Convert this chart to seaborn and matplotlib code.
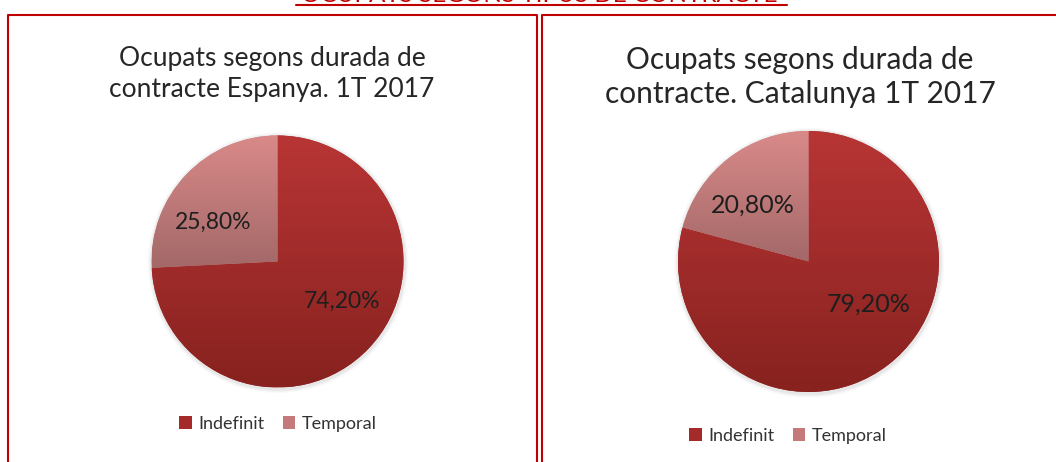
import numpy as np
import matplotlib
matplotlib.use("Agg")
import matplotlib.pyplot as plt
import seaborn as sns
from matplotlib.colors import LinearSegmentedColormap
from matplotlib.lines import Line2D
from matplotlib.patches import Patch, Circle

# Data
categories = ["Indefinit", "Temporal"]
espanya = [74.2, 25.8]
catalunya = [79.2, 20.8]
pct_labels_esp = ["74,20%", "25,80%"]
pct_labels_cat = ["79,20%", "20,80%"]
titles = ["Ocupats segons durada de\ncontracte Espanya. 1T 2017",
          "Ocupats segons durada de\ncontracte. Catalunya 1T 2017"]
header = "OCUPATS SEGONS TIPUS DE CONTRACTE"

# gradient colours (top, bottom) per category
grad_cols = [("#b83535", "#87221f"), ("#d98a89", "#a36868")]
solid_cols = ["#a52b2b", "#c47a7a"]

sns.set_theme(style="white")
plt.rcParams["font.family"] = ["Lato", "DejaVu Sans"]

W, H = 1056, 462
fig = plt.figure(figsize=(W / 100, H / 100), dpi=100)
fig.patch.set_facecolor("white")


def fx(x):
    return x / W


def fy(y):
    return 1 - y / H


red = "#c00000"

# cut-off header and underline (only the bottom of the letters is visible)
fig.text(fx(539), fy(2), header, ha="center", va="baseline", color=red, fontsize=17.5)
fig.add_artist(Line2D([fx(296), fx(787)], [fy(5), fy(5)], color=red, lw=1.5))

# panel borders
for xs in ([8, 8, 537, 537], [542, 542, 1060, 1060]):
    fig.add_artist(Line2D([fx(v) for v in xs], [fy(470), fy(15), fy(15), fy(470)],
                          color=red, lw=1.5))


def fill_gradient(ax, wedge, top, bottom):
    ext = wedge.get_path().get_extents()
    cmap = LinearSegmentedColormap.from_list("g", [top, bottom])
    grad = np.linspace(0, 1, 256)[:, None]
    im = ax.imshow(grad, cmap=cmap, origin="upper", aspect="auto",
                   extent=(ext.x0, ext.x1, ext.y0, ext.y1), zorder=3)
    im.set_clip_path(wedge)


def draw_pie(cx, cy, r, values, labels, label_pos, label_size):
    pad = 1.12
    size = 2 * r * pad
    ax = fig.add_axes([fx(cx - size / 2), fy(cy + size / 2), size / W, size / H])
    # soft shadow
    for k, a in zip([1.035, 1.025, 1.015], [0.04, 0.06, 0.09]):
        ax.add_patch(Circle((0.005, -0.01), k, color="#808080", alpha=a, lw=0, zorder=1))
    wedges, _ = ax.pie(values, startangle=90, counterclock=False,
                       colors=solid_cols, wedgeprops=dict(linewidth=0, zorder=2))
    for w, (top, bot) in zip(wedges, grad_cols):
        fill_gradient(ax, w, top, bot)
    for txt, (lx, ly) in zip(labels, label_pos):
        ax.text(lx, ly, txt, ha="center", va="center", fontsize=label_size,
                color="#1e1e1e", zorder=5)
    ax.set_xlim(-pad, pad)
    ax.set_ylim(-pad, pad)
    ax.set_aspect("equal")
    ax.axis("off")
    return ax


draw_pie(277.5, 261.5, 126, espanya, pct_labels_esp,
         [(0.51, -0.32), (-0.51, 0.31)], 16.5)
draw_pie(808.5, 261.5, 130.5, catalunya, pct_labels_cat,
         [(0.46, -0.33), (-0.43, 0.43)], 18)

fig.text(fx(272), fy(74), titles[0], ha="center", va="center", fontsize=19,
         color="#262626", linespacing=1.3)
fig.text(fx(800), fy(77), titles[1], ha="center", va="center", fontsize=21.5,
         color="#262626", linespacing=1.25)

handles = [Patch(facecolor=c, edgecolor="none") for c in solid_cols]
for x, y in [(278, 424), (788, 436)]:
    fig.legend(handles, categories, loc="center", bbox_to_anchor=(fx(x), fy(y)),
               ncol=2, frameon=False, handlelength=0.7, handleheight=0.7,
               handletextpad=0.35, columnspacing=1.0, labelcolor="#333333",
               prop=dict(size=13))

fig.savefig("out.png", dpi=100, facecolor="white")
